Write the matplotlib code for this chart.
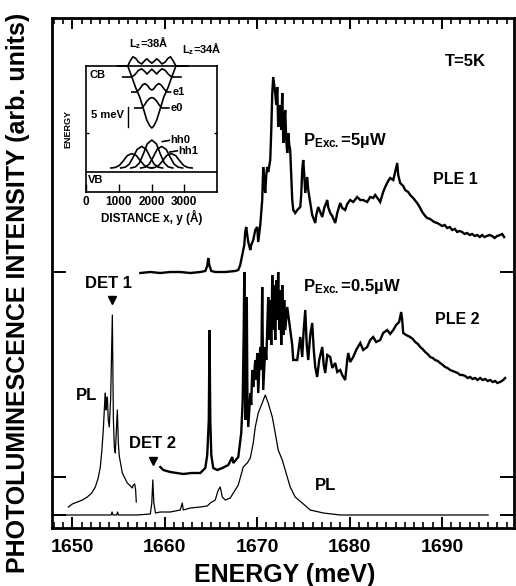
import matplotlib
matplotlib.use('Agg')
import matplotlib.pyplot as plt
from matplotlib.ticker import MultipleLocator, FixedLocator, NullFormatter

plt.rcParams['font.family'] = ['Liberation Sans', 'DejaVu Sans']
plt.rcParams['font.weight'] = 'bold'
plt.rcParams['mathtext.fontset'] = 'custom'
plt.rcParams['mathtext.rm'] = 'Liberation Sans:bold'
plt.rcParams['mathtext.it'] = 'Liberation Sans:bold'
plt.rcParams['mathtext.bf'] = 'Liberation Sans:bold'
plt.rcParams['mathtext.default'] = 'rm'

# ---------------- main spectra (energy in meV, intensity in arb. units, offset) -------------
pl_det_E = [1649.57, 1650.0, 1650.54, 1651.1, 1651.62, 1652.1, 1652.49, 1652.8, 1653.03, 1653.2,
            1653.35, 1653.5, 1653.57, 1653.65, 1653.72, 1653.79, 1653.89, 1654.0, 1654.15, 1654.33,
            1654.44, 1654.55, 1654.65, 1654.78, 1654.87, 1654.98, 1655.08, 1655.41, 1655.95, 1656.3,
            1656.49, 1656.6, 1656.75, 1656.85, 1656.92]
pl_det_I = [21, 24, 26, 28, 31, 35, 41, 50, 61, 78,
            98, 125, 135, 118, 128, 131, 108, 101, 130, 213,
            110, 80, 75, 100, 118, 85, 72, 55, 45, 42,
            40, 43, 44, 38, 26]

pl_E = [1649.03, 1652.0, 1654.2, 1654.3, 1654.4, 1654.8, 1654.9, 1655.0, 1657.0, 1658.44, 1658.6,
        1658.71, 1658.82, 1659.0, 1659.52, 1660.6, 1661.68, 1661.9, 1662.01, 1662.77, 1663.85,
        1664.6, 1664.93, 1665.47, 1665.69, 1665.8, 1666.01, 1666.23, 1666.55, 1667.09, 1667.63,
        1667.96, 1668.5, 1668.93, 1669.26, 1669.58, 1669.8, 1670.12, 1670.55, 1670.88, 1671.2,
        1671.64, 1671.96, 1672.28, 1672.72, 1673.26, 1673.58, 1674.12, 1674.88, 1675.75, 1677.16,
        1679.0, 1682.56, 1686.24, 1689.81, 1695.0]
pl_I = [13, 13, 13, 16, 13, 13, 16, 13, 13, 14, 25,
        48, 25, 15, 16, 16, 18, 25, 18, 20, 21,
        22, 25, 28, 35, 38, 41, 31, 28, 30, 38,
        43, 61, 65, 70, 85, 101, 115, 125, 133, 125,
        111, 95, 78, 68, 51, 41, 31, 25, 18, 15,
        13, 13, 13, 13, 13]

ple2_E = [1659.52, 1659.84, 1660.6, 1661.3, 1662.01, 1662.9, 1663.85, 1664.39, 1664.6, 1664.77,
          1664.85, 1664.93, 1665.04, 1665.25, 1665.69, 1666.23, 1666.88, 1667.31, 1667.42, 1667.96,
          1668.28, 1668.44, 1668.55, 1668.61, 1668.67, 1668.74, 1668.82, 1668.88, 1668.95, 1669.04,
          1669.26, 1669.36, 1669.47, 1669.58, 1669.8, 1669.91, 1670.01, 1670.12, 1670.34, 1670.45,
          1670.55, 1670.66, 1670.88, 1670.99, 1671.2, 1671.31, 1671.42, 1671.53, 1671.64, 1671.74,
          1671.85, 1671.96, 1672.07, 1672.18, 1672.28, 1672.39, 1672.5, 1672.61, 1672.72, 1672.83,
          1672.93, 1673.04, 1673.26, 1673.58, 1673.8, 1673.91, 1674.34, 1674.67, 1674.88, 1675.04,
          1675.21, 1675.37, 1675.53, 1675.75, 1675.96, 1676.13, 1676.29, 1676.5, 1676.72, 1677.05,
          1677.21, 1677.37, 1677.59, 1677.91, 1678.13, 1678.45, 1678.67, 1678.99, 1679.21, 1679.53,
          1679.75, 1679.86, 1680.07, 1680.4, 1680.72, 1681.16, 1681.48, 1681.91, 1682.24, 1682.56,
          1682.89, 1683.32, 1683.64, 1684.08, 1684.4, 1684.73, 1685.05, 1685.37, 1685.59, 1685.7,
          1685.81, 1686.13, 1686.56, 1686.85, 1687.11, 1687.4, 1687.65, 1687.9, 1688.19, 1688.45,
          1688.73, 1689.0, 1689.27, 1689.55, 1689.81, 1690.1, 1690.35, 1690.6, 1690.89, 1691.15,
          1691.43, 1691.7, 1691.97, 1692.25, 1692.51, 1692.8, 1693.06, 1693.3, 1693.6, 1693.85,
          1694.14, 1694.4, 1694.68, 1694.95, 1695.22, 1695.5, 1695.76, 1696.0, 1696.3, 1696.63,
          1696.84]
ple2_I = [61, 58, 56, 55, 54, 55, 55, 60, 73, 108,
          198, 108, 73, 60, 58, 60, 63, 71, 65, 71,
          95, 128, 198, 256, 198, 108, 148, 231, 128, 101,
          135, 123, 158, 141, 168, 148, 175, 135, 181, 158,
          241, 138, 181, 168, 231, 188, 228, 183, 253, 198,
          243, 188, 248, 208, 256, 198, 238, 183, 243, 193,
          228, 198, 221, 198, 183, 168, 168, 191, 171, 198,
          218, 183, 168, 193, 205, 178, 161, 151, 168, 181,
          163, 155, 173, 171, 160, 165, 156, 158, 153, 148,
          168, 175, 166, 171, 178, 185, 178, 181, 188, 191,
          186, 188, 195, 198, 194, 198, 203, 206, 216, 208,
          195, 193, 191, 189, 186, 184, 181, 179, 176, 174,
          171, 170, 168, 167, 165, 163, 161, 160, 158, 157,
          156, 155, 153, 153, 152, 150, 151, 149, 150, 148,
          150, 148, 149, 147, 148, 146, 147, 145, 146, 148,
          150]

ple1_E = [1657.36, 1658.44, 1659.52, 1660.6, 1661.68, 1662.77, 1663.85, 1664.39, 1664.6, 1664.71,
          1664.82, 1665.04, 1665.47, 1666.55, 1667.63, 1667.96, 1668.17, 1668.39, 1668.5, 1668.61,
          1668.71, 1668.82, 1668.93, 1669.04, 1669.26, 1669.36, 1669.58, 1669.8, 1670.01, 1670.12,
          1670.34, 1670.55, 1670.66, 1670.77, 1670.88, 1670.99, 1671.1, 1671.2, 1671.42, 1671.53,
          1671.64, 1671.74, 1671.85, 1671.96, 1672.07, 1672.18, 1672.28, 1672.39, 1672.5, 1672.61,
          1672.72, 1672.83, 1672.93, 1673.04, 1673.15, 1673.26, 1673.37, 1673.48, 1673.58, 1673.69,
          1673.8, 1673.91, 1674.12, 1674.34, 1674.67, 1674.77, 1674.88, 1674.99, 1675.1, 1675.21,
          1675.31, 1675.42, 1675.53, 1675.75, 1675.96, 1676.29, 1676.4, 1676.61, 1676.83, 1677.05,
          1677.26, 1677.59, 1677.69, 1677.91, 1678.13, 1678.45, 1678.67, 1678.99, 1679.21, 1679.53,
          1679.75, 1680.07, 1680.4, 1680.83, 1681.16, 1681.48, 1681.91, 1682.24, 1682.56, 1682.78,
          1683.1, 1683.32, 1683.64, 1683.86, 1684.18, 1684.4, 1684.73, 1684.94, 1685.16, 1685.27,
          1685.48, 1685.81, 1686.02, 1686.35, 1686.56, 1686.89, 1687.32, 1687.65, 1687.87, 1688.19,
          1688.4, 1688.73, 1689.16, 1689.49, 1690.03, 1690.3, 1690.57, 1690.85, 1691.11, 1691.4,
          1691.65, 1691.9, 1692.19, 1692.45, 1692.73, 1693.0, 1693.27, 1693.55, 1693.81, 1694.1,
          1694.35, 1694.6, 1694.89, 1695.15, 1695.43, 1695.7, 1695.98, 1696.3, 1696.52, 1696.73]
ple1_I = [255, 256, 255, 256, 256, 255, 256, 257, 262, 270,
          263, 257, 256, 256, 257, 258, 263, 273, 278, 283,
          296, 301, 293, 286, 278, 283, 288, 298, 301, 286,
          303, 328, 361, 343, 335, 353, 361, 356, 368, 398,
          435, 451, 443, 435, 423, 441, 401, 413, 423, 398,
          435, 385, 403, 418, 388, 375, 395, 383, 378, 353,
          328, 318, 315, 318, 321, 333, 358, 368, 353, 335,
          343, 351, 338, 325, 313, 305, 313, 321, 316, 311,
          320, 328, 321, 315, 312, 305, 315, 325, 320, 318,
          324, 328, 326, 331, 328, 328, 326, 331, 330, 333,
          329, 326, 336, 341, 347, 350, 348, 356, 365, 353,
          345, 342, 338, 336, 333, 330, 325, 320, 316, 312,
          310, 309, 306, 305, 302, 303, 300, 301, 298, 299,
          296, 297, 296, 294, 295, 293, 294, 292, 293, 291,
          293, 291, 292, 293, 292, 290, 292, 293, 294, 291]

baselines = [13, 51, 256]
x_major = [1650, 1660, 1670, 1680, 1690]

# ---------------- inset schematic (distance in Angstrom, energy in meV) ----------------
cb_d = [970, 1275, 1400, 1520, 1640, 1765, 1855, 1950, 2010, 2070, 2160, 2255, 2375, 2500, 2620, 2745, 3110]
cb_u = [31.5, 31.5, 28.75, 26.0, 23.75, 20.5, 18.0, 16.5, 16.0, 16.5, 18.0, 20.5, 23.75, 26.0, 28.75, 31.5, 31.5]
e0_d = [1490, 1600, 1700, 1780, 1860, 1940, 2010, 2080, 2160, 2240, 2320, 2420, 2530]
e0_u = [21, 21, 21, 21.7, 22.7, 23.4, 23.6, 23.4, 22.7, 21.7, 21, 21, 21]
e1_d = [1400, 1550, 1640, 1730, 1800, 1880, 1950, 2010, 2070, 2140, 2220, 2290, 2380, 2470, 2580]
e1_u = [25, 25, 25.8, 26.8, 27.1, 26.6, 25.8, 25.5, 25.8, 26.6, 27.1, 26.8, 25.8, 25, 25]
e2_d = [1120, 1400, 1500, 1600, 1700, 1800, 1860, 1920, 2010, 2100, 2160, 2220, 2320, 2420, 2520, 2620, 2900]
e2_u = [28.75, 28.75, 29.4, 30.4, 30.8, 30.1, 29.5, 30.0, 30.7, 30.0, 29.5, 30.1, 30.8, 30.4, 29.4, 28.75, 28.75]
e3_d = [970, 1275, 1350, 1430, 1520, 1600, 1700, 1800, 1860, 1920, 2010, 2100, 2160, 2220, 2320, 2420, 2500, 2580, 2660, 2745, 3110]
e3_u = [31.5, 31.5, 32.8, 33.8, 33.4, 32.5, 32.0, 32.9, 33.3, 32.8, 32.2, 32.8, 33.3, 32.9, 32.0, 32.5, 33.4, 33.8, 32.8, 31.5, 31.5]
hh_centers = [1400, 1700, 2010, 2310, 2600]
hh_heights = [3.6, 5.4, 7.0, 5.4, 3.6]
hh_shape_dx = [-640, -500, -380, -260, -140, 0, 140, 260, 380, 500, 640]
hh_shape_fr = [0.0, 0.04, 0.18, 0.5, 0.86, 1.0, 0.86, 0.5, 0.18, 0.04, 0.0]
hh_base = 6.0
vb_u = 5.0
inset_xticks = [0, 1000, 2000, 3000]

# ---------------- figure ----------------
fig = plt.figure(figsize=(5.16, 5.86), dpi=100)
ax = fig.add_axes([52/516, 1-528/586, 462/516, 510/586])

ax.plot(ple1_E, ple1_I, color='black', lw=1.7, solid_joinstyle='miter')
ax.plot(ple2_E, ple2_I, color='black', lw=1.7, solid_joinstyle='miter')
ax.plot(pl_det_E, pl_det_I, color='black', lw=0.9)
ax.plot(pl_E, pl_I, color='black', lw=0.9)

ax.set_xlim(1647.8, 1697.8)
ax.set_ylim(0, 510)
ax.xaxis.set_major_locator(FixedLocator(x_major))
ax.xaxis.set_minor_locator(MultipleLocator(1))
ax.yaxis.set_major_locator(FixedLocator(baselines))
ax.yaxis.set_major_formatter(NullFormatter())
for s in ax.spines.values():
    s.set_linewidth(2.0)
ax.tick_params(axis='x', which='major', direction='in', top=True, bottom=True,
               length=8, width=1.4, labelsize=14, pad=8)
ax.tick_params(axis='x', which='minor', direction='in', top=True, bottom=True,
               length=4.5, width=1.2)
ax.tick_params(axis='y', which='major', direction='in', left=True, right=True,
               length=10, width=1.4)
for lab in ax.get_xticklabels():
    lab.set_fontweight('bold')

# main annotations
ax.text(1692.5, 466, 'T=5K', fontsize=12, ha='center', va='center')
ax.text(1675.0, 388, r'P$_{\mathrm{Exc.}}$=5µW', fontsize=12, ha='left', va='center')
ax.text(1689.05, 348, 'PLE 1', fontsize=11.5, ha='left', va='center')
ax.text(1675.0, 241, r'P$_{\mathrm{Exc.}}$=0.5µW', fontsize=12, ha='left', va='center')
ax.text(1689.27, 208, 'PLE 2', fontsize=11.5, ha='left', va='center')
ax.text(1677.37, 43, 'PL', fontsize=12, ha='center', va='center')
ax.text(1651.51, 133, 'PL', fontsize=12, ha='center', va='center')
ax.text(1653.89, 245, 'DET 1', fontsize=12, ha='center', va='center')
ax.plot([1654.33], [228], marker='v', color='black', ms=6, ls='none')
ax.text(1658.65, 85, 'DET 2', fontsize=12, ha='center', va='center')
ax.plot([1658.7], [67], marker='v', color='black', ms=6, ls='none')

fig.text(18/516, 1-293/586, 'PHOTOLUMINESCENCE INTENSITY (arb. units)', rotation=90,
         fontsize=18, fontweight='bold', ha='center', va='center')
fig.text(285/516, 1-575/586, 'ENERGY (meV)', fontsize=18, fontweight='bold',
         ha='center', va='center')

# ---------------- inset ----------------
axi = fig.add_axes([86/516, 1-192/586, 131/516, 126/586])
axi.set_xlim(0, 4000)
axi.set_ylim(0, 31.5)
axi.set_facecolor('white')
for s in axi.spines.values():
    s.set_linewidth(1.2)
lw_in = 1.2
axi.plot(cb_d, cb_u, color='black', lw=lw_in, clip_on=False)
axi.plot(e0_d, e0_u, color='black', lw=lw_in)
axi.plot(e1_d, e1_u, color='black', lw=lw_in)
axi.plot(e2_d, e2_u, color='black', lw=lw_in)
axi.plot(e3_d, e3_u, color='black', lw=lw_in, clip_on=False)
axi.plot([0, 4000], [vb_u, vb_u], color='black', lw=lw_in)
for c, h in zip(hh_centers, hh_heights):
    xs = [c + dx for dx in hh_shape_dx]
    ys = [hh_base + h * f for f in hh_shape_fr]
    axi.plot(xs, ys, color='black', lw=lw_in)
axi.plot([2330, 2540], [12.6, 12.9], color='black', lw=lw_in)
axi.plot([2560, 2790], [10.0, 10.3], color='black', lw=lw_in)
axi.plot([1275, 1275], [16.25, 21.25], color='black', lw=1.0)

axi.text(2570, 12.9, 'hh0', fontsize=8, ha='left', va='center')
axi.text(2810, 10.3, 'hh1', fontsize=8, ha='left', va='center')
axi.text(2640, 25.0, 'e1', fontsize=8, ha='left', va='center')
axi.text(2590, 21.0, 'e0', fontsize=8, ha='left', va='center')
axi.text(113, 29.2, 'CB', fontsize=8, ha='left', va='center')
axi.text(60, 3.0, 'VB', fontsize=8, ha='left', va='center')
axi.text(1150, 19.2, '5 meV', fontsize=8, ha='right', va='center')
axi.text(1917, 37.3, r'L$_z$=38Å', fontsize=8, ha='center', va='center', clip_on=False)
axi.text(3540, 35.8, r'L$_z$=34Å', fontsize=8, ha='center', va='center', clip_on=False)
axi.text(-0.14, 0.5, 'ENERGY', transform=axi.transAxes, rotation=90, fontsize=6.5,
         ha='center', va='center')

axi.xaxis.set_major_locator(FixedLocator(inset_xticks))
axi.yaxis.set_major_locator(FixedLocator([14.75]))
axi.yaxis.set_major_formatter(NullFormatter())
axi.tick_params(axis='x', direction='in', length=6, width=1.0, labelsize=8.5, pad=3)
axi.tick_params(axis='y', direction='in', left=True, right=True, length=2.5, width=1.0)
for lab in axi.get_xticklabels():
    lab.set_fontweight('bold')
axi.set_xlabel('DISTANCE x, y (Å)', fontsize=8.5, fontweight='bold', labelpad=1)

fig.savefig('out.png', dpi=100)
